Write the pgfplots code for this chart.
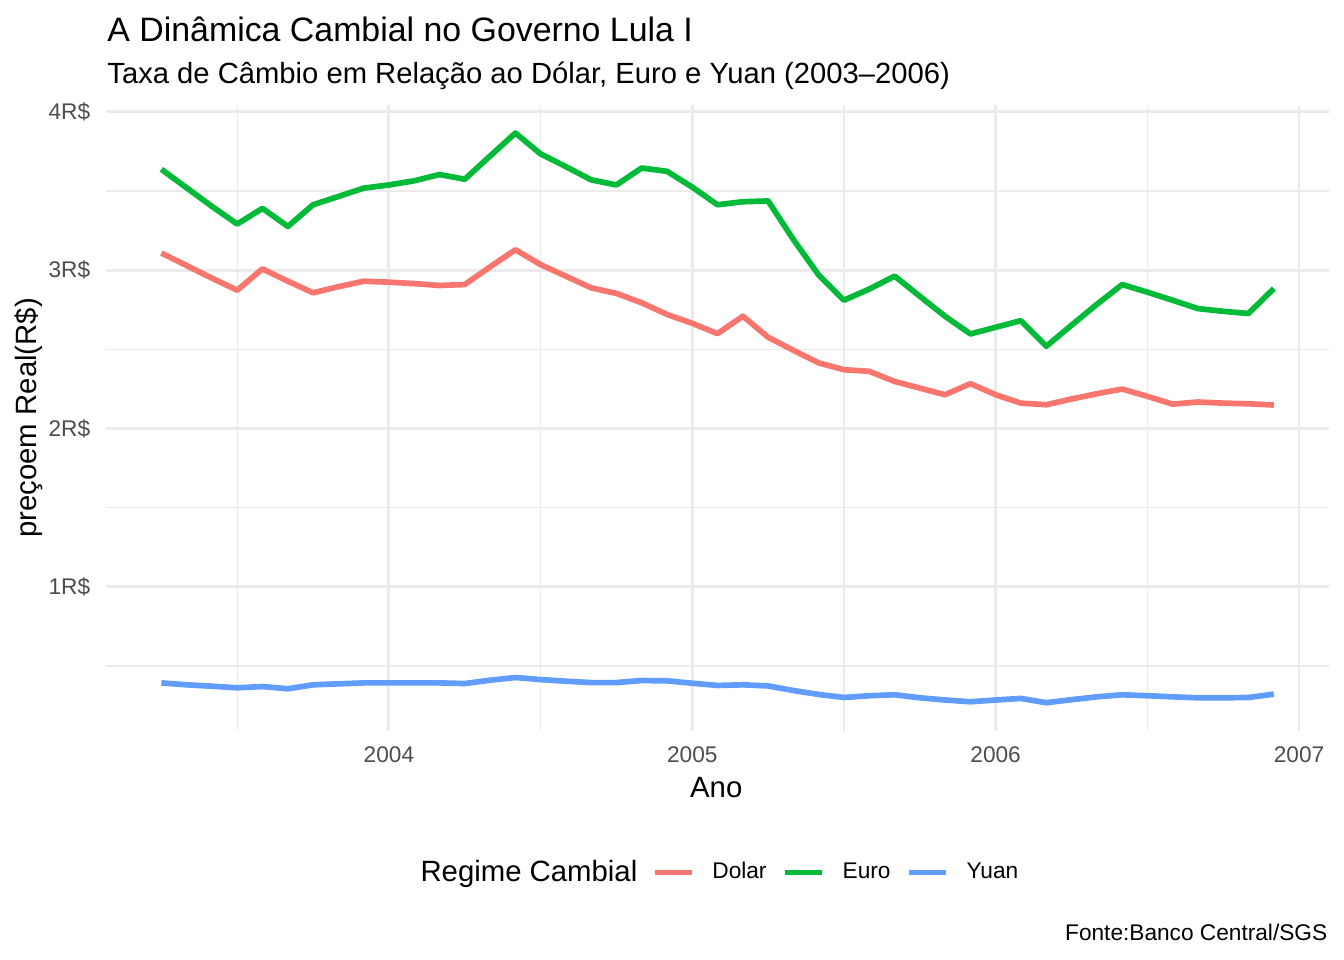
\documentclass[border=0pt]{standalone}
\usepackage{fontspec}
\setmainfont{Liberation Sans}
\usepackage{pgfplots}
\usepackage{pgfplotstable}
\pgfplotsset{compat=1.18}
\definecolor{cDolar}{HTML}{F8766D}
\definecolor{cEuro}{HTML}{00BA38}
\definecolor{cYuan}{HTML}{619CFF}
\definecolor{grid92}{HTML}{EBEBEB}
\definecolor{grey30}{HTML}{4D4D4D}
\pgfplotstableread{
x        D      E      Y
2003.250 3.108  3.637  0.393
2003.333 3.029  3.520  0.381
2003.417 2.949  3.402  0.372
2003.500 2.873  3.291  0.362
2003.583 3.008  3.390  0.370
2003.667 2.930  3.276  0.356
2003.750 2.857  3.413  0.381
2003.833 2.895  3.465  0.387
2003.917 2.930  3.518  0.393
2004.000 2.924  3.538  0.393
2004.083 2.915  3.564  0.393
2004.167 2.903  3.604  0.393
2004.250 2.909  3.574  0.389
2004.333 3.020  3.720  0.410
2004.417 3.129  3.866  0.427
2004.500 3.035  3.734  0.414
2004.583 2.962  3.654  0.404
2004.667 2.888  3.570  0.395
2004.750 2.853  3.538  0.395
2004.833 2.794  3.645  0.408
2004.917 2.720  3.624  0.406
2005.000 2.664  3.524  0.391
2005.083 2.599  3.413  0.377
2005.167 2.709  3.432  0.381
2005.250 2.576  3.437  0.374
2005.333 2.494  3.194  0.345
2005.417 2.414  2.968  0.320
2005.500 2.371  2.810  0.301
2005.583 2.361  2.880  0.312
2005.667 2.297  2.962  0.318
2005.750 2.255  2.835  0.299
2005.833 2.213  2.709  0.285
2005.917 2.283  2.597  0.274
2006.000 2.213  2.639  0.285
2006.083 2.160  2.681  0.295
2006.167 2.150  2.519  0.268
2006.250 2.186  2.652  0.287
2006.333 2.219  2.783  0.305
2006.417 2.249  2.909  0.318
2006.500 2.203  2.861  0.312
2006.583 2.154  2.810  0.305
2006.667 2.167  2.757  0.299
2006.750 2.160  2.740  0.299
2006.833 2.156  2.726  0.301
2006.917 2.148  2.884  0.322
}\cambio
\begin{document}
\begin{tikzpicture}
\path[use as bounding box] (0,0) rectangle (504bp,360bp);
\begin{axis}[
  at={(39.7bp,85.8bp)}, anchor=south west,
  scale only axis,
  width=458.8bp, height=235bp,
  xmin=2003.067, xmax=2007.1,
  ymin=0.088, ymax=4.046,
  axis line style={draw=none},
  major tick length=0pt, minor tick length=0pt,
  tick style={draw=none},
  xtick={2004,2005,2006,2007},
  xticklabels={2004,2005,2006,2007},
  minor xtick={2003.5,2004.5,2005.5,2006.5},
  ytick={1,2,3,4},
  yticklabels={1R\$,2R\$,3R\$,4R\$},
  minor ytick={0.5,1.5,2.5,3.5},
  grid=both,
  major grid style={draw=grid92, line width=1.07bp},
  minor grid style={draw=grid92, line width=0.53bp},
  ticklabel style={font=\fontsize{8.5bp}{10bp}\selectfont, text=grey30, inner sep=0pt},
  xticklabel style={anchor=north, yshift=-5.6bp},
  yticklabel style={anchor=east, xshift=-5.7bp},
  legend style={at={(0.4462,-0.2255)}, anchor=west, draw=none, fill=none,
    inner sep=0pt, outer sep=0pt,
    font=\fontsize{8.5bp}{10bp}\selectfont,
    nodes={inner sep=0pt},
    /tikz/every odd column/.append style={column sep=6.6bp},
    /tikz/every even column/.append style={column sep=5.8bp}},
  legend columns=3,
  legend image code/.code={\draw[#1, line width=2.13bp] (0bp,0bp) -- (14bp,0bp);},
  every axis plot/.append style={line width=2.13bp, line join=round, line cap=butt},
]
\addplot[cDolar] table[x=x, y=D] {\cambio};
\addlegendentry{Dolar}
\addplot[cEuro] table[x=x, y=E] {\cambio};
\addlegendentry{Euro}
\addplot[cYuan] table[x=x, y=Y] {\cambio};
\addlegendentry{Yuan}
\end{axis}
\node[anchor=base west, inner sep=0pt, font=\fontsize{12.7bp}{15bp}\selectfont] at (40.1bp,344.6bp) {A Dinâmica Cambial no Governo Lula I};
\node[anchor=base west, inner sep=0pt, font=\fontsize{10.95bp}{13bp}\selectfont] at (40.1bp,328.5bp) {Taxa de Câmbio em Relação ao Dólar, Euro e Yuan (2003–2006)};
\node[anchor=north, inner sep=0pt, font=\fontsize{11bp}{13bp}\selectfont] at (268.6bp,68.6bp) {Ano};
\node[rotate=90, anchor=base, inner sep=0pt, font=\fontsize{11bp}{13bp}\selectfont] at (13.75bp,203.3bp) {preçoem Real(R\$)};
\node[anchor=base west, inner sep=0pt, font=\fontsize{11bp}{13bp}\selectfont] at (157.5bp,29.6bp) {Regime Cambial};
\node[anchor=base east, inner sep=0pt, font=\fontsize{8.5bp}{10bp}\selectfont] at (497.9bp,7.5bp) {Fonte:Banco Central/SGS};
\end{tikzpicture}
\end{document}
